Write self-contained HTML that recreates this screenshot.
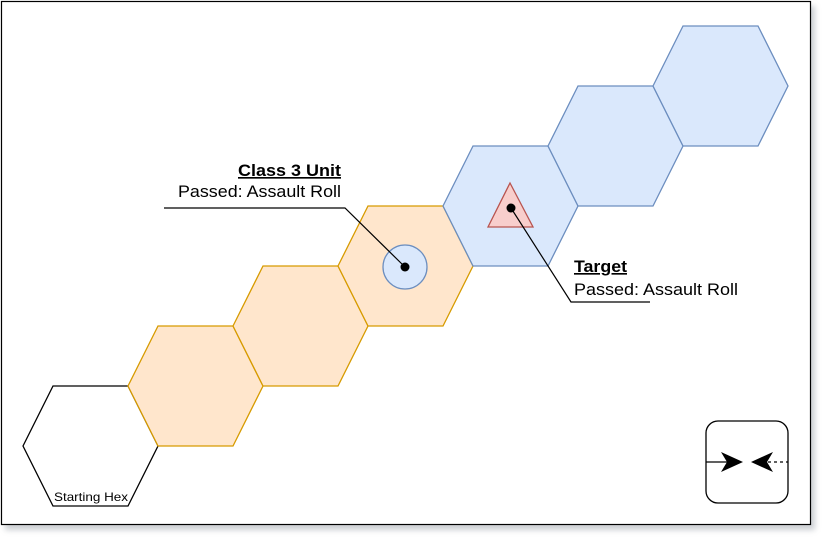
<!DOCTYPE html>
<html><head><meta charset="utf-8"><style>
html,body{margin:0;padding:0;background:#fff;width:828px;height:543px;overflow:hidden}
svg{display:block}
text{font-family:"Liberation Sans",Arial,sans-serif}
</style></head><body>
<svg width="828" height="543" viewBox="0 0 828 543" xmlns="http://www.w3.org/2000/svg">
<defs><filter id="sh" x="-5%" y="-5%" width="110%" height="115%"><feGaussianBlur stdDeviation="3"/></filter></defs>
<rect x="5" y="6" width="810" height="524" fill="#9aa0a8" opacity="0.5" filter="url(#sh)"/>
<rect x="1.5" y="1.5" width="809" height="523" fill="#fff" stroke="#000" stroke-width="1.2"/>
<g stroke-width="1.3" stroke-linejoin="miter">
<polygon points="23,446 53,386 128,386 158,446 128,506 53,506" fill="#fff" stroke="#000"/>
<polygon points="128,386 158,326 233,326 263,386 233,446 158,446" fill="#ffe6cc" stroke="#d79b00"/>
<polygon points="233,326 263,266 338,266 368,326 338,386 263,386" fill="#ffe6cc" stroke="#d79b00"/>
<polygon points="338,266 368,206 443,206 473,266 443,326 368,326" fill="#ffe6cc" stroke="#d79b00"/>
<polygon points="443,206 473,146 548,146 578,206 548,266 473,266" fill="#dae8fc" stroke="#6c8ebf"/>
<polygon points="548,146 578,86 653,86 683,146 653,206 578,206" fill="#dae8fc" stroke="#6c8ebf"/>
<polygon points="653,86 683,26 758,26 788,86 758,146 683,146" fill="#dae8fc" stroke="#6c8ebf"/>
</g>
<text x="54" y="501" font-size="12" textLength="74" lengthAdjust="spacingAndGlyphs">Starting Hex</text>
<circle cx="405" cy="267" r="22" fill="#dae8fc" stroke="#6c8ebf" stroke-width="1.3"/>
<polygon points="510,183 488,227 533,227" fill="#f8cecc" stroke="#b85450" stroke-width="1.3"/>
<polyline points="164,208 345,208 405,267" fill="none" stroke="#000" stroke-width="1.2"/>
<circle cx="405" cy="267" r="4.5" fill="#000"/>
<polyline points="511,208 571,302 650,302" fill="none" stroke="#000" stroke-width="1.2"/>
<circle cx="511" cy="208" r="4.5" fill="#000"/>
<text x="238" y="176" font-size="16.5" font-weight="bold" textLength="103" lengthAdjust="spacingAndGlyphs" text-decoration="underline">Class 3 Unit</text>
<text x="178" y="197" font-size="16.5" textLength="163" lengthAdjust="spacingAndGlyphs">Passed: Assault Roll</text>
<text x="574" y="272" font-size="16.5" font-weight="bold" textLength="53" lengthAdjust="spacingAndGlyphs" text-decoration="underline">Target</text>
<text x="574" y="295" font-size="16.5" textLength="164" lengthAdjust="spacingAndGlyphs">Passed: Assault Roll</text>
<rect x="706" y="421" width="82" height="82" rx="12" fill="#fff" stroke="#000" stroke-width="1.3"/>
<line x1="706" y1="462" x2="728" y2="462" stroke="#000" stroke-width="1.2"/>
<path d="M721,452 L743,462 L721,472 L727,462 Z" fill="#000"/>
<path d="M773,452 L751,462 L773,472 L767,462 Z" fill="#000"/>
<line x1="768" y1="462" x2="788" y2="462" stroke="#000" stroke-width="1.2" stroke-dasharray="3,3"/>
</svg>
</body></html>
